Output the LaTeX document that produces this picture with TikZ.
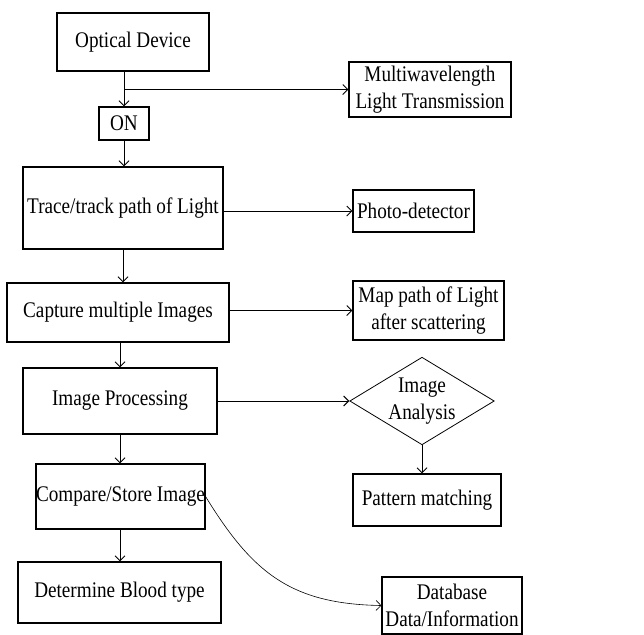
\documentclass[tikz,border=0pt]{standalone}
\usepackage{fontspec}
\setmainfont{Liberation Serif}[FakeStretch=0.86]
\usetikzlibrary{arrows.meta,shapes.geometric}
\begin{document}
\begin{tikzpicture}[x=1pt,y=-1pt,
  font=\fontsize{22.3}{27.5}\selectfont,
  box/.style={draw,line width=1.1pt,inner sep=0pt,align=center},
  arr/.style={line width=1pt,-{Straight Barb[length=5pt,width=10pt]}}]
\useasboundingbox (0,0) rectangle (644,634);

% Boxes
\node[box,minimum width=152pt,minimum height=58pt] (dev) at (133,42){Optical Device};
\node[box,minimum width=162pt,minimum height=55pt] (multi) at (430,89.5){Multiwavelength\\Light Transmission};
\node[box,minimum width=50pt,minimum height=33pt] (on) at (124,123.5){ON};
\node[box,minimum width=200pt,minimum height=82pt] (trace) at (123,208){Trace/track path of Light};
\node[box,minimum width=121pt,minimum height=42pt] (photo) at (413.5,211){Photo-detector};
\node[box,minimum width=222pt,minimum height=59pt] (capture) at (118,312.5){Capture multiple Images};
\node[box,minimum width=151pt,minimum height=59pt] (map) at (428.5,310.5){Map path of Light\\after scattering};
\node[box,minimum width=194pt,minimum height=66pt] (improc) at (120,401){Image Processing};
\node[draw,diamond,aspect=1.65,inner sep=0pt,line width=0.8pt,align=center,
  minimum width=140pt,minimum height=85pt] (analysis) at (422,401){Image\\Analysis};
\node[box,minimum width=148pt,minimum height=52pt] (pattern) at (427,500){Pattern matching};
\node[box,minimum width=169pt,minimum height=65pt] (compare) at (120.5,496.5){Compare/Store Image};
\node[box,minimum width=203pt,minimum height=61pt] (blood) at (119.5,592.5){Determine Blood type};
\node[box,minimum width=140pt,minimum height=57pt] (db) at (452,605.5){Database\\Data/Information};

% Arrows
\draw[arr] (on.north |- dev.south) -- (on.north);
\draw[arr] (on.north |- multi.west) -- (multi.west);
\draw[arr] (on.south) -- (on.south |- trace.north);
\draw[arr] (trace.east |- photo.west) -- (photo.west);
\draw[arr] (trace.south) -- (trace.south |- capture.north);
\draw[arr] (capture.east |- map.west) -- (map.west);
\draw[arr] (improc.north |- capture.south) -- (improc.north);
\draw[arr] (improc.east) -- (analysis.west);
\draw[arr] (analysis.south) -- (analysis.south |- pattern.north);
\draw[arr] (improc.south) -- (improc.south |- compare.north);
\draw[arr] (improc.south |- compare.south) -- (improc.south |- blood.north);

% Curved link to database
\draw[arr,line width=0.6pt] (compare.east) .. controls (252,572) and (290,604) .. (db.west);
\end{tikzpicture}
\end{document}
